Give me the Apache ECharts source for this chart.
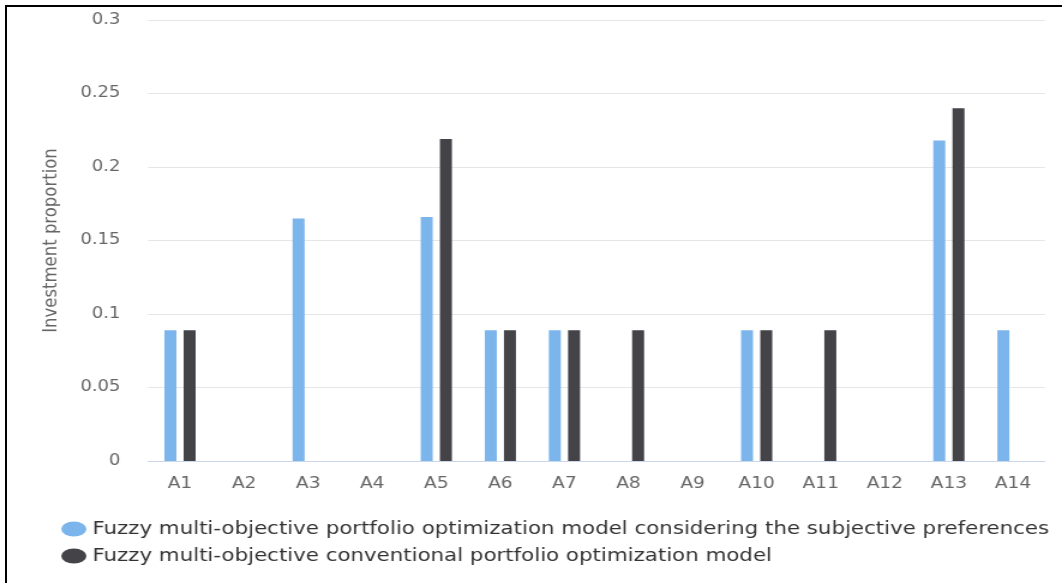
<!DOCTYPE html>
<html>
<head>
<meta charset="utf-8">
<script src="https://cdn.jsdelivr.net/npm/echarts@6/dist/echarts.min.js"></script>
<style>
html,body{margin:0;padding:0;background:#fff;overflow:hidden;}
#frame{position:absolute;left:5px;top:5px;width:1057px;height:578px;border-top:2px solid #000;border-left:2px solid #000;box-sizing:border-box;pointer-events:none;z-index:2;}
#chart{position:absolute;left:0;top:0;width:885px;height:583px;transform:scaleX(1.2);transform-origin:0 0;}
</style>
</head>
<body>
<div id="chart"></div>
<div id="frame"></div>
<script>
const categories = ['A1','A2','A3','A4','A5','A6','A7','A8','A9','A10','A11','A12','A13','A14'];
const seriesNames = [
  'Fuzzy multi-objective portfolio optimization model considering the subjective preferences',
  'Fuzzy multi-objective conventional portfolio optimization model'
];
const subjectiveValues = [0.089, 0, 0.165, 0, 0.166, 0.089, 0.089, 0, 0, 0.089, 0, 0, 0.218, 0.089];
const conventionalValues = [0.089, 0, 0, 0, 0.219, 0.089, 0.089, 0.089, 0, 0.089, 0.089, 0, 0.240, 0];
const yAxisTitle = 'Investment proportion';

const chart = echarts.init(document.getElementById('chart'), null, {renderer:'canvas', width:885, height:583});
const font = 'DejaVu Sans';
const ellipse = 'path://M0,10a10,10 0 1,0 20,0a10,10 0 1,0 -20,0';
chart.setOption({
  animation: false,
  color: ['#7cb5ec', '#434348'],
  grid: {left: 123.3, right: 14.2, top: 20, bottom: 122, containLabel: false},
  legend: {
    orient: 'vertical',
    left: 46,
    top: 515,
    itemGap: 9,
    itemWidth: 21,
    itemHeight: 15,
    icon: ellipse,
    symbolKeepAspect: false,
    textStyle: {color: '#333', fontSize: 17.8, fontFamily: font},
    data: seriesNames
  },
  xAxis: {
    type: 'category',
    data: categories,
    axisLine: {lineStyle: {color: '#ccd6eb', width: 1}},
    axisTick: {show: false},
    axisLabel: {color: '#666', fontSize: 15.5, fontFamily: font, margin: 15}
  },
  yAxis: {
    type: 'value',
    min: 0,
    max: 0.3,
    interval: 0.05,
    name: yAxisTitle,
    nameLocation: 'middle',
    nameGap: 72,
    nameTextStyle: {color: '#666', fontSize: 16.5, fontFamily: font},
    axisLine: {show: false},
    axisTick: {show: false},
    splitLine: {lineStyle: {color: '#e6e6e6', width: 1}},
    axisLabel: {color: '#666', fontSize: 15, fontFamily: font, margin: 23,
      formatter: v => String(Math.round(v*100)/100)}
  },
  series: [
    {name: seriesNames[0], type: 'bar', data: subjectiveValues, barWidth: 10, barGap: '60%'},
    {name: seriesNames[1], type: 'bar', data: conventionalValues, barWidth: 10, barGap: '60%'}
  ]
});
</script>
</body>
</html>
